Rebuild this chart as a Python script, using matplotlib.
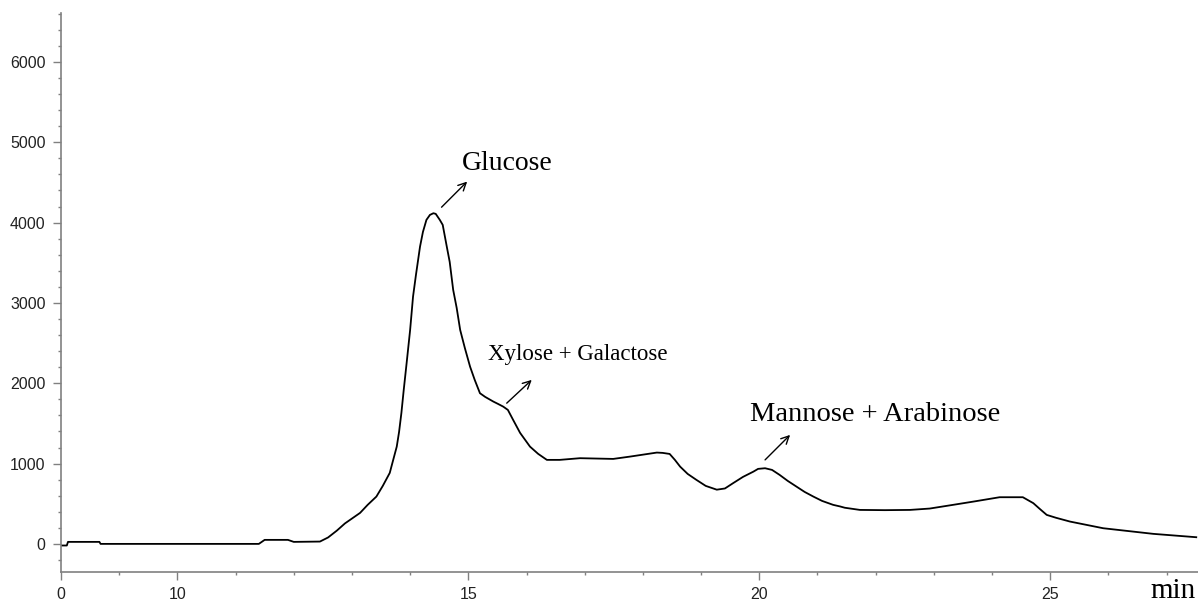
import numpy as np
import matplotlib.pyplot as plt
from matplotlib.ticker import FixedLocator, MultipleLocator

# chromatogram trace (time in min, signal)
time_min = [0.0, 0.5, 0.6, 3.3, 3.4, 11.4, 11.5, 11.9, 12.0, 12.45,
            12.59, 12.74, 12.88, 13.14, 13.27, 13.42, 13.53, 13.65, 13.70, 13.77,
            13.81, 13.85, 13.89, 13.94, 14.00, 14.05, 14.10, 14.17, 14.22, 14.28,
            14.34, 14.40, 14.44, 14.51, 14.56, 14.63, 14.68, 14.74, 14.80, 14.86,
            14.94, 15.03, 15.11, 15.20, 15.29, 15.43, 15.51, 15.60, 15.68, 15.77,
            15.89, 16.06, 16.20, 16.35, 16.57, 16.92, 17.49, 17.78, 18.24, 18.34,
            18.46, 18.55, 18.64, 18.77, 18.92, 19.08, 19.27, 19.41, 19.55, 19.72,
            19.90, 19.98, 20.10, 20.22, 20.35, 20.49, 20.64, 20.78, 20.93, 21.08,
            21.27, 21.39, 21.47, 21.73, 22.16, 22.59, 22.93, 23.33, 23.70, 24.13,
            24.53, 24.71, 24.82, 24.94, 25.10, 25.34, 25.91, 26.77, 27.51]
signal = [-20, -20, 25, 25, 0, 0, 50, 50, 25, 29,
          80, 165, 255, 386, 486, 589, 722, 884, 1021, 1211,
          1394, 1631, 1917, 2253, 2664, 3079, 3349, 3701, 3884, 4034,
          4096, 4117, 4109, 4034, 3972, 3701, 3511, 3162, 2938, 2664,
          2440, 2207, 2042, 1876, 1830, 1772, 1743, 1709, 1668, 1544,
          1382, 1211, 1121, 1046, 1046, 1067, 1058, 1087, 1137, 1133,
          1120, 1046, 962, 871, 797, 722, 675, 690, 756, 834,
          900, 934, 942, 921, 859, 784, 713, 647, 589, 535,
          486, 466, 450, 423, 420, 423, 440, 486, 529, 581,
          581, 507, 436, 361, 325, 278, 195, 125, 83]

# peak labels: text, text position, arrow tail, arrow head
peak_names = ["Glucose", "Xylose + Galactose", "Mannose + Arabinose"]
peak_text_xy = [(14.89, 4656), (15.34, 2291), (19.84, 1535)]
peak_arrow_from = [(14.54, 4192), (15.66, 1752), (20.10, 1046)]
peak_arrow_to = [(14.98, 4511), (16.09, 2042), (20.53, 1357)]
peak_font = [20, 16.5, 20.5]

x_major = [0, 10, 15, 20, 25]
x_minor = [5, 11, 12, 13, 14, 16, 17, 18, 19, 21, 22, 23, 24, 26, 27]


# time axis: 0-10 min squeezed, linear after 10 min
def fwd(t):
    t = np.asarray(t, dtype=float)
    return np.where(t < 10, t / 5.0, t - 8.0)


def inv(u):
    u = np.asarray(u, dtype=float)
    return np.where(u < 2, u * 5.0, u + 8.0)


axis_col = "#808080"
plt.rcParams['font.family'] = ['Liberation Sans', 'DejaVu Sans']

fig = plt.figure(figsize=(11.98, 6.03), dpi=100)
ax = fig.add_axes([61 / 1198, 31 / 603, 1137 / 1198, 559 / 603])

ax.set_xscale('function', functions=(fwd, inv))
ax.plot(time_min, signal, color="black", lw=1.3)

ax.set_xlim(0, 27.54)
ax.set_ylim(-350, 6610)

ax.xaxis.set_major_locator(FixedLocator(x_major))
ax.xaxis.set_minor_locator(FixedLocator(x_minor))
ax.set_xticklabels([str(v) for v in x_major])
ax.yaxis.set_major_locator(MultipleLocator(1000))
ax.yaxis.set_minor_locator(MultipleLocator(200))

for s in ["top", "right"]:
    ax.spines[s].set_visible(False)
for s in ["left", "bottom"]:
    ax.spines[s].set_color(axis_col)
    ax.spines[s].set_linewidth(1.2)

ax.tick_params(which="major", length=6, width=1, color=axis_col,
               labelsize=11.5, labelcolor="#222222", pad=5)
ax.tick_params(which="minor", length=2.5, width=1, color=axis_col)
ax.tick_params(axis="y", which="major", pad=5)

for name, txy, a0, a1, fs in zip(peak_names, peak_text_xy, peak_arrow_from,
                                 peak_arrow_to, peak_font):
    ax.text(txy[0], txy[1], name, family="Liberation Serif", fontsize=fs,
            ha="left", va="baseline")
    ax.annotate("", xy=a1, xytext=a0,
                arrowprops=dict(arrowstyle="->", color="black", lw=1,
                                shrinkA=0, shrinkB=0, mutation_scale=14))

fig.text(1196 / 1198, 5 / 603, "min", family="Liberation Serif", fontsize=21,
         ha="right", va="baseline")

fig.savefig("out.png", dpi=100)
